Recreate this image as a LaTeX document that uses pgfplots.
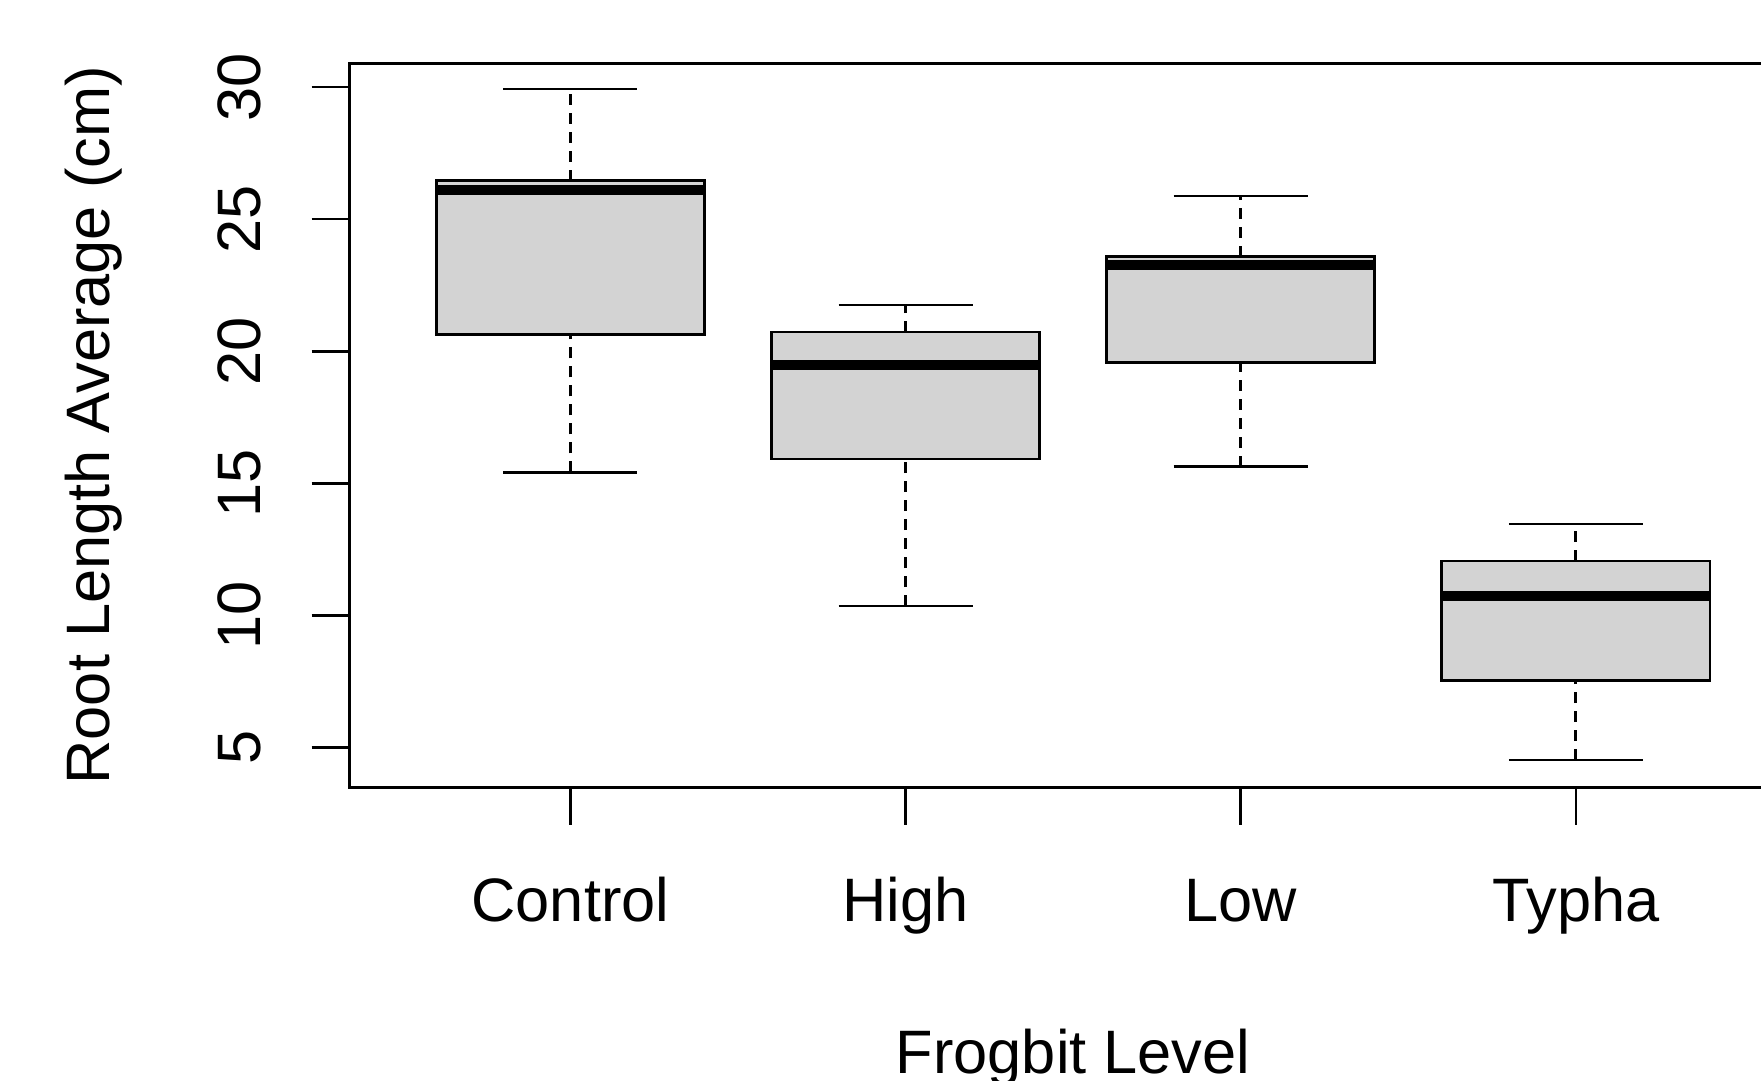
\documentclass[border=0pt]{standalone}
\usepackage{fontspec}
\setmainfont{Liberation Sans}
\usepackage{pgfplots}
\pgfplotsset{compat=1.18}

\definecolor{boxgray}{RGB}{211,211,211}

\pgfplotsset{
  rline/.style={black, solid, line width=0.8pt, mark=none},
  rwhisker/.style={black, line width=0.8pt, mark=none, dash pattern=on 3.3pt off 2.4pt},
}

% one R style box: position, lower whisker, lower quartile, median, upper quartile, upper whisker
\newcommand\rbox[6]{%
  \pgfmathsetmacro\bl{#1-0.4}\pgfmathsetmacro\br{#1+0.4}%
  \pgfmathsetmacro\wl{#1-0.2}\pgfmathsetmacro\wr{#1+0.2}%
  \addplot[rwhisker] coordinates {(#1,#2) (#1,#3)};
  \addplot[rwhisker] coordinates {(#1,#5) (#1,#6)};
  \addplot[rline] coordinates {(\wl,#2) (\wr,#2)};
  \addplot[rline] coordinates {(\wl,#6) (\wr,#6)};
  \addplot[rline, fill=boxgray] coordinates {(\bl,#3) (\br,#3) (\br,#5) (\bl,#5)} -- cycle;
  \addplot[black, line width=3pt, mark=none] coordinates {(\bl,#4) (\br,#4)};
}

\begin{document}
\begin{tikzpicture}
\useasboundingbox (-104.79pt,-88.11pt) rectangle (423.51pt,236.19pt);
\clip (-104.79pt,-88.11pt) rectangle (423.51pt,236.19pt);
\begin{axis}[
    at={(0pt,0pt)}, anchor=south west,
    scale only axis, width=434.3pt, height=217.2pt,
    xmin=0.34, xmax=4.66, ymin=3.5, ymax=30.9,
    xtick={1,2,3,4},
    xticklabels={Control,High,Low,Typha},
    ytick={5,10,15,20,25,30},
    tick pos=left, tick align=outside,
    major tick length=11.3pt,
    every tick/.style={black, line width=0.75pt},
    axis line style={black, line width=0.75pt},
    /pgf/number format/assume math mode=true,
    tick label style={font=\fontsize{18.4pt}{22pt}\selectfont},
    label style={font=\fontsize{18.4pt}{22pt}\selectfont},
    xticklabel style={anchor=base, inner sep=0pt, yshift=-29pt},
    yticklabel style={xshift=-15pt, rotate=90, anchor=south, inner sep=0pt},
    xlabel={Frogbit Level},
    ylabel={Root Length Average (cm)},
    xlabel style={at={(axis description cs:0.5,-0.3946)}, anchor=base, inner sep=0pt},
    ylabel style={at={(axis description cs:-0.1653,0.5)}, anchor=base, inner sep=0pt},
]
\rbox{1}{15.42}{20.63}{26.12}{26.46}{29.93} % Control
\rbox{2}{10.36}{15.93}{19.50}{20.73}{21.75} % High
\rbox{3}{15.63}{19.58}{23.28}{23.58}{25.88} % Low
\rbox{4}{4.53}{7.55}{10.74}{12.06}{13.46}   % Typha
\end{axis}
\end{tikzpicture}
\end{document}
